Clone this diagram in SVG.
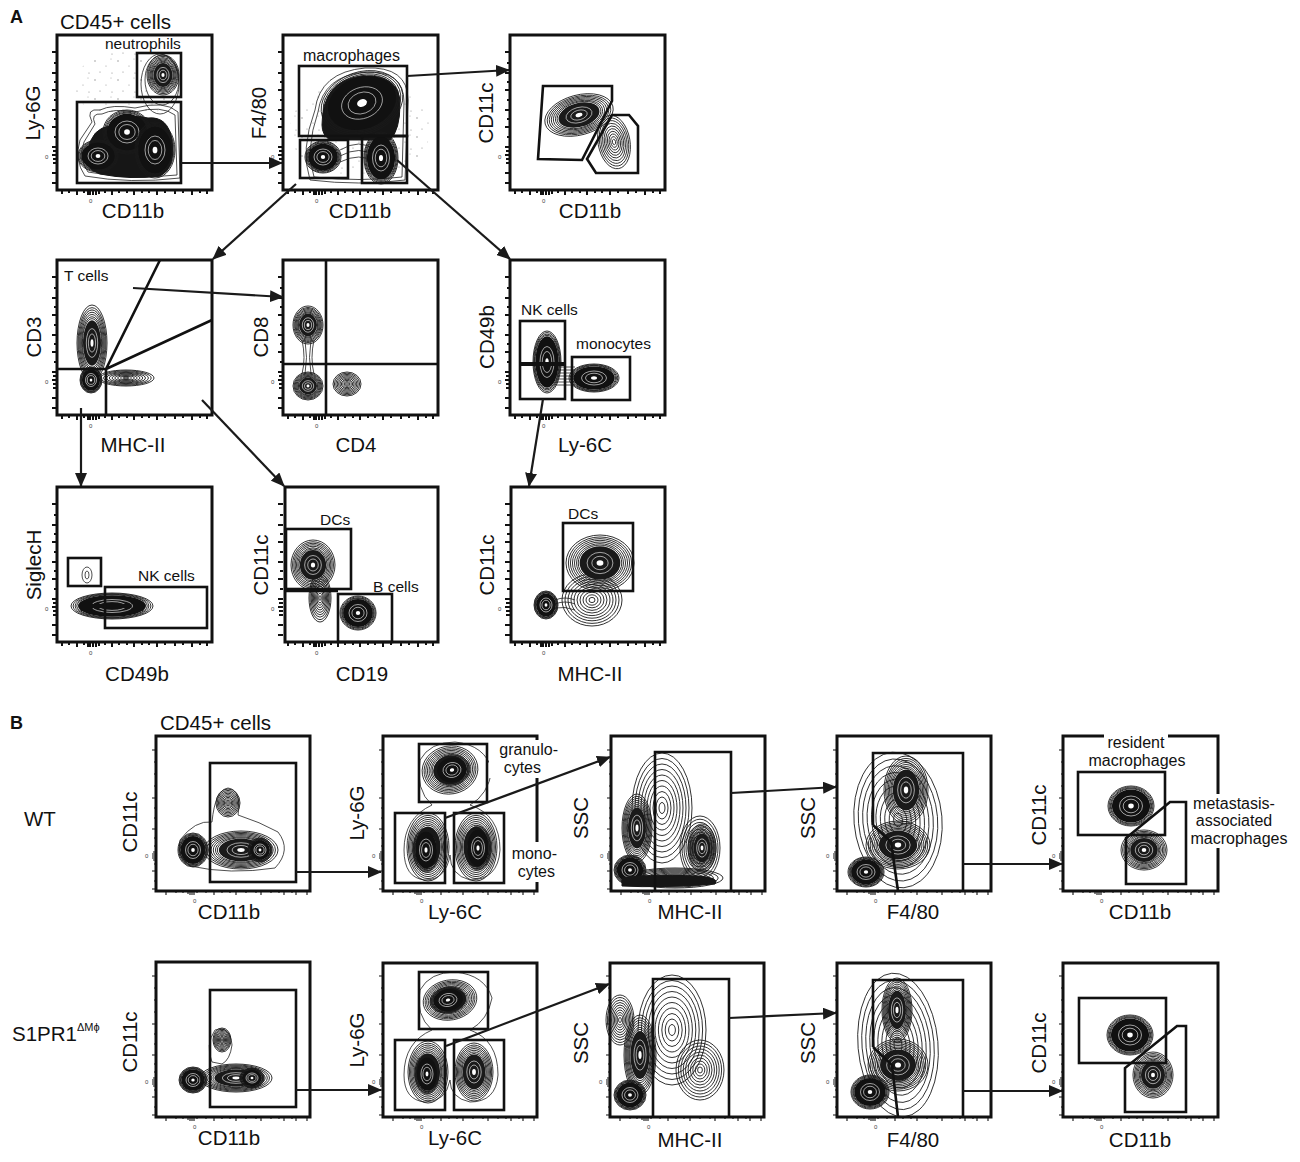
<svg xmlns="http://www.w3.org/2000/svg" xmlns:xlink="http://www.w3.org/1999/xlink" width="1300" height="1162" viewBox="0 0 1300 1162">
<style>
text{font-family:"Liberation Sans",Arial,sans-serif;fill:#111}
.ax{font-size:20.5px}
.gl{font-size:15.5px}
.gb{font-size:16px}
.z{font-size:6px;fill:#444}
.pl{font-size:18px;font-weight:bold}
.fr{fill:#fff;stroke:#111;stroke-width:3}
.gt{fill:none;stroke:#111;stroke-width:2.6}
.c{fill:none;stroke:#1a1a1a;stroke-width:.9;vector-effect:non-scaling-stroke}
.w{fill:none;stroke:#fff;stroke-width:.6;vector-effect:non-scaling-stroke}
.th{fill:none;stroke:#222;stroke-width:.8}
.dk{fill:#161616;stroke:#161616;stroke-width:1}
.tkA{fill:none;stroke:#111;stroke-width:2}
.tkB{fill:none;stroke:#111;stroke-width:1.1}
.cn{fill:none;stroke:#1a1a1a;stroke-width:2.2}
</style>
<defs>
<marker id="ah" markerUnits="userSpaceOnUse" markerWidth="14" markerHeight="12" refX="13" refY="6" orient="auto">
<path d="M0,0 L14,6 L0,12 Z" fill="#1a1a1a"/>
</marker>
<pattern id="dots" width="23" height="19" patternUnits="userSpaceOnUse">
<circle cx="3" cy="4" r=".7" fill="#888"/><circle cx="14" cy="9" r=".6" fill="#999"/><circle cx="8" cy="15" r=".6" fill="#888"/><circle cx="19" cy="2" r=".5" fill="#999"/><circle cx="20" cy="16" r=".6" fill="#888"/>
</pattern>
<g id="bd">
<circle r="1" class="c"/><circle r=".95" class="c"/><circle r=".9" class="c"/><circle r=".86" class="c"/>
<circle r=".83" fill="#111"/>
<circle r=".5" class="w"/><circle r=".34" class="w"/><circle r=".12" fill="#fff"/>
</g>
<g id="bm">
<circle r="1" class="c"/><circle r=".93" class="c"/><circle r=".87" class="c"/><circle r=".81" class="c"/><circle r=".75" class="c"/><circle r=".69" class="c"/><circle r=".64" class="c"/>
<circle r=".6" fill="#1a1a1a"/>
<circle r=".38" class="w"/><circle r=".24" class="w"/><circle r=".1" fill="#fff"/>
</g>
<g id="bl">
<circle r="1" class="c"/><circle r=".9" class="c"/><circle r=".8" class="c"/><circle r=".7" class="c"/><circle r=".6" class="c"/><circle r=".5" class="c"/><circle r=".4" class="c"/><circle r=".3" class="c"/><circle r=".2" class="c"/><circle r=".1" class="c"/>
</g>
<g id="tA">
<path class="tkA" d="M-5 17h5M-3 28h3M-5 38h5M-3 47h3M-5 55h5M-3 65h3M-5 75h5M-3 84h3M-5 92h5M-3 102h3M-5 112h5M-4 116h4M-5 120h5M-4 124h4M-4 128h4M-5 138h5M-5 148h5"/>
<path class="tkA" d="M5 155v4M12 155v3M20 155v5M27 155v3M31 155v5M33 155v5M36 155v5M39 155v5M42 155v4M48 155v3M55 155v5M62 155v3M70 155v3M77 155v5M85 155v3M92 155v3M100 155v5M108 155v3M118 155v4M126 155v3M135 155v5M143 155v3M150 155v4"/>
<text class="z" x="-12" y="124">0</text><text class="z" x="32" y="168">0</text>
</g>
<g id="tB">
<path class="tkB" d="M-4 14h4M-2 26h2M-2 38h2M-2 50h2M-4 62h4M-2 72h2M-2 82h2M-4 93h4M-2 102h2M-2 110h2M-3 116h3M-4 118h4M-4 120h4M-4 122h4M-3 124h3M-2 128h2M-4 135h4M-2 145h2M-4 153h4"/>
<path class="tkB" d="M10 155v4M20 155v2M27 155v2M32 155v3M34 155v4M36 155v4M38 155v4M41 155v2M50 155v2M58 155v4M66 155v2M74 155v2M80 155v4M90 155v2M100 155v2M105 155v4M115 155v2M123 155v2M128 155v4M136 155v2M140 155v4M151 155v4"/>
<text class="z" x="-11" y="122">0</text><text class="z" x="37" y="167">0</text>
</g>
</defs>
<rect width="1300" height="1162" fill="#fff"/>

<text class="pl" x="10" y="23">A</text>
<text class="pl" x="10" y="729">B</text>

<!-- Panel A row 1 -->
<g id="a1">
<rect class="fr" x="57" y="35" width="155" height="155"/>
<use href="#tA" transform="translate(57 35)"/>
<ellipse cx="125" cy="85" rx="50" ry="35" fill="url(#dots)"/>
<ellipse cx="160" cy="84" rx="19" ry="30" class="th"/>
<ellipse cx="162" cy="80" rx="17" ry="25" class="th"/>
<use href="#bm" transform="translate(163 75) scale(16 20)"/>
<path class="th" d="M92 122Q85 108 100 110Q112 104 135 108Q165 100 178 112L180 178Q130 184 85 176Q74 160 80 140Z"/>
<path class="th" d="M95 124Q90 113 102 114Q114 108 135 112Q162 105 175 115L177 175Q130 180 88 172Q78 158 84 142Z"/>
<path class="dk" d="M88 150Q92 128 110 126Q128 112 148 118Q168 116 172 140Q176 168 160 176Q130 180 100 174Q82 168 88 150Z"/>
<use href="#bd" transform="translate(127 132) scale(24 22)"/>
<use href="#bd" transform="translate(98 156) scale(20 16)"/>
<use href="#bd" transform="translate(155 150) scale(20 28)"/>
<rect class="gt" x="137" y="53" width="44" height="44"/>
<rect class="gt" x="77" y="102" width="104" height="81"/>
<text class="ax" x="60" y="29">CD45+ cells</text>
<text class="gl" x="105" y="49">neutrophils</text>
<text class="ax" transform="translate(40 113) rotate(-90)" text-anchor="middle">Ly-6G</text>
<text class="ax" x="133" y="218" text-anchor="middle">CD11b</text>
</g>

<g id="a2">
<rect class="fr" x="283" y="35" width="155" height="155"/>
<use href="#tA" transform="translate(283 35)"/>
<ellipse cx="360" cy="130" rx="70" ry="50" fill="url(#dots)"/>
<path class="th" d="M315 110Q320 72 365 68Q408 66 408 100L405 180Q360 186 310 180Q300 150 315 110Z"/>
<path class="th" d="M318 112Q323 76 365 72Q404 70 404 102L402 177Q360 182 314 177Q305 150 318 112Z"/>
<path class="dk" d="M322 125Q322 80 362 76Q400 74 400 104Q400 130 390 140L330 140Q322 135 322 125Z"/>
<use href="#bd" transform="translate(362 103) rotate(-20) scale(42 31)"/>
<path class="th" d="M340 150Q360 138 375 150M340 156Q360 145 375 156M340 162Q360 152 375 162"/>
<use href="#bd" transform="translate(323 157) scale(18 16)"/>
<use href="#bd" transform="translate(381 158) scale(17 26)"/>
<rect class="gt" x="299" y="66" width="108" height="70"/>
<rect class="gt" x="300" y="140" width="48" height="38"/>
<rect class="gt" x="362" y="136" width="45" height="47"/>
<text class="gl" x="303" y="61" style="font-size:16px">macrophages</text>
<text class="ax" transform="translate(266 113) rotate(-90)" text-anchor="middle">F4/80</text>
<text class="ax" x="360" y="218" text-anchor="middle">CD11b</text>
</g>

<g id="a3">
<rect class="fr" x="510" y="35" width="155" height="155"/>
<use href="#tA" transform="translate(510 35)"/>
<use href="#bl" transform="translate(614 142) rotate(-10) scale(16 27)"/>
<use href="#bm" transform="translate(579 115) rotate(-15) scale(35 20)"/>
<path class="gt" d="M543 86H612V101L582 160L538 159Z"/>
<path class="gt" d="M612 115H629L638 126V173H596L587 159Z"/>
<text class="ax" transform="translate(493 113) rotate(-90)" text-anchor="middle">CD11c</text>
<text class="ax" x="590" y="218" text-anchor="middle">CD11b</text>
</g>

<!-- Panel A row 2 -->
<g id="a4">
<rect class="fr" x="57" y="260" width="155" height="155"/>
<use href="#tA" transform="translate(57 260)"/>
<use href="#bl" transform="translate(126 378) scale(28 8)"/>
<use href="#bm" transform="translate(92 343) scale(15 38)"/>
<use href="#bd" transform="translate(91 380) scale(11 13)"/>
<path class="gt" d="M57 369H106V414M106 369L160 260M106 369L212 320"/>
<text class="gl" x="64" y="281">T cells</text>
<text class="ax" transform="translate(41 337) rotate(-90)" text-anchor="middle">CD3</text>
<text class="ax" x="133" y="452" text-anchor="middle">MHC-II</text>
</g>

<g id="a5">
<rect class="fr" x="283" y="260" width="155" height="155"/>
<use href="#tA" transform="translate(283 260)"/>
<path class="th" d="M302 340Q306 358 302 374M314 340Q310 358 314 374M305 340Q308 358 305 374M311 340Q308 358 311 374"/>
<use href="#bm" transform="translate(308 325) scale(15 19)"/>
<use href="#bm" transform="translate(308 386) scale(15 14)"/>
<use href="#bl" transform="translate(347 384) scale(14 12)"/>
<path class="gt" d="M326 260V414M283 364H438"/>
<text class="ax" transform="translate(268 337) rotate(-90)" text-anchor="middle">CD8</text>
<text class="ax" x="356" y="452" text-anchor="middle">CD4</text>
</g>

<g id="a6">
<rect class="fr" x="510" y="260" width="155" height="155"/>
<use href="#tA" transform="translate(510 260)"/>
<path class="th" d="M556 370H575M556 373H575M556 376H575M556 379H575M556 382H575M556 385H575M556 367H575"/>
<use href="#bd" transform="translate(594 378) scale(25 14)"/>
<use href="#bd" transform="translate(547 362) scale(14 31)"/>
<rect class="gt" x="520" y="321" width="45" height="78"/>
<path d="M520 364H565" stroke="#111" stroke-width="4"/>
<rect class="gt" x="572" y="357" width="58" height="43"/>
<text class="gl" x="521" y="315">NK cells</text>
<text class="gl" x="576" y="349">monocytes</text>
<text class="ax" transform="translate(494 337) rotate(-90)" text-anchor="middle">CD49b</text>
<text class="ax" x="585" y="452" text-anchor="middle">Ly-6C</text>
</g>

<!-- Panel A row 3 -->
<g id="a7">
<rect class="fr" x="57" y="487" width="155" height="155"/>
<use href="#tA" transform="translate(57 487)"/>
<ellipse cx="87" cy="575" rx="5" ry="8" class="th"/><ellipse cx="87" cy="575" rx="2" ry="4" class="th"/>
<use href="#bd" transform="translate(112 606) scale(41 13)"/>
<rect x="80" y="604" width="50" height="4" fill="#111"/>
<rect class="gt" x="68" y="558" width="33" height="28"/>
<rect class="gt" x="105" y="587" width="102" height="41"/>
<text class="gl" x="138" y="581">NK cells</text>
<text class="ax" transform="translate(41 565) rotate(-90)" text-anchor="middle">SiglecH</text>
<text class="ax" x="137" y="681" text-anchor="middle">CD49b</text>
</g>

<g id="a8">
<rect class="fr" x="285" y="487" width="153" height="155"/>
<use href="#tA" transform="translate(283 487)"/>
<use href="#bl" transform="translate(320 598) scale(11 24)"/>
<use href="#bm" transform="translate(313 565) scale(22 25)"/>
<use href="#bd" transform="translate(358 613) scale(18 17)"/>
<rect class="gt" x="286" y="529" width="65" height="60"/>
<rect class="gt" x="338" y="594" width="54" height="48"/>
<path class="gt" d="M286 591H338"/>
<text class="gl" x="320" y="525">DCs</text>
<text class="gl" x="373" y="592">B cells</text>
<text class="ax" transform="translate(268 565) rotate(-90)" text-anchor="middle">CD11c</text>
<text class="ax" x="362" y="681" text-anchor="middle">CD19</text>
</g>

<g id="a9">
<rect class="fr" x="511" y="487" width="154" height="155"/>
<use href="#tA" transform="translate(510 487)"/>
<use href="#bl" transform="translate(592 600) scale(30 26)"/>
<path class="th" d="M555 600Q565 596 575 600M555 604Q565 600 575 604M555 608Q565 606 575 610"/>
<use href="#bm" transform="translate(600 563) scale(34 28)"/>
<use href="#bd" transform="translate(546 605) scale(12 14)"/>
<rect class="gt" x="563" y="523" width="70" height="68"/>
<text class="gl" x="568" y="519">DCs</text>
<text class="ax" transform="translate(494 565) rotate(-90)" text-anchor="middle">CD11c</text>
<text class="ax" x="590" y="681" text-anchor="middle">MHC-II</text>
</g>

<!-- Panel B labels -->
<text class="ax" x="160" y="730">CD45+ cells</text>
<text class="ax" x="24" y="826">WT</text>
<text class="ax" x="12" y="1041">S1PR1<tspan dy="-10" style="font-size:11px">ΔMϕ</tspan></text>

<!-- Panel B row 1 -->
<g id="b1">
<rect class="fr" x="156" y="736" width="154" height="155"/>
<use href="#tB" transform="translate(156 736)"/>
<path class="th" d="M180 840Q195 820 212 822Q215 790 228 788Q242 790 238 815Q260 822 278 832Q292 850 275 868Q230 875 190 866Q176 856 180 840Z"/>
<use href="#bl" transform="translate(228 803) scale(12 14)"/>
<use href="#bd" transform="translate(193 850) scale(15 17)"/>
<use href="#bm" transform="translate(241 850) scale(37 19)"/>
<use href="#bd" transform="translate(260 850) scale(12 12)"/>
<rect class="gt" x="210" y="763" width="86" height="119"/>
<text class="ax" transform="translate(137 822) rotate(-90)" text-anchor="middle">CD11c</text>
<text class="ax" x="229" y="919" text-anchor="middle">CD11b</text>
</g>

<g id="b2">
<rect class="fr" x="383" y="736" width="154" height="155"/>
<use href="#tB" transform="translate(383 736)"/>
<path class="th" d="M420 760Q430 742 455 742Q485 745 492 770Q488 795 470 805Q500 815 500 850Q498 880 470 880Q450 875 450 855Q446 880 425 880Q404 878 404 850Q404 818 432 805Q415 790 420 760Z"/>
<use href="#bm" transform="translate(450 770) rotate(-10) scale(28 24)"/>
<use href="#bm" transform="translate(428 847) scale(21 34)"/>
<use href="#bm" transform="translate(476 847) scale(21 34)"/>
<use href="#bd" transform="translate(426 850) scale(13 22)"/>
<use href="#bd" transform="translate(478 848) scale(13 22)"/>
<use href="#bd" transform="translate(452 770) rotate(-10) scale(18 15)"/>
<rect class="gt" x="419" y="744" width="68" height="58"/>
<rect class="gt" x="395" y="813" width="50" height="70"/>
<rect class="gt" x="454" y="813" width="50" height="70"/>
<rect x="489" y="740" width="72" height="38" fill="#fff"/>
<rect x="510" y="842" width="50" height="40" fill="#fff"/>
<text class="gb" x="558" y="755" text-anchor="end">granulo-</text>
<text class="gb" x="541" y="773" text-anchor="end">cytes</text>
<text class="gb" x="557" y="859" text-anchor="end">mono-</text>
<text class="gb" x="555" y="877" text-anchor="end">cytes</text>
<text class="ax" transform="translate(364 813) rotate(-90)" text-anchor="middle">Ly-6G</text>
<text class="ax" x="455" y="919" text-anchor="middle">Ly-6C</text>
</g>

<g id="b3">
<rect class="fr" x="611" y="736" width="154" height="155"/>
<use href="#tB" transform="translate(611 736)"/>
<use href="#bl" transform="translate(662 808) scale(30 55)"/>
<use href="#bl" transform="translate(700 848) scale(20 32)"/>
<use href="#bl" transform="translate(675 878) scale(48 10)"/>
<use href="#bm" transform="translate(637 828) scale(15 34)"/>
<use href="#bm" transform="translate(702 848) scale(14 24)"/>
<use href="#bd" transform="translate(630 870) scale(16 15)"/>
<path class="dk" d="M622 878Q640 874 700 876Q720 878 715 884Q660 888 622 886Z"/>
<path class="gt" d="M655 891V752H731V891"/>
<text class="ax" transform="translate(588 818) rotate(-90)" text-anchor="middle">SSC</text>
<text class="ax" x="690" y="919" text-anchor="middle">MHC-II</text>
</g>

<g id="b4">
<rect class="fr" x="837" y="736" width="154" height="155"/>
<use href="#tB" transform="translate(837 736)"/>
<use href="#bl" transform="translate(898 820) rotate(-5) scale(44 68)"/>
<use href="#bm" transform="translate(906 790) scale(22 34)"/>
<use href="#bm" transform="translate(898 845) scale(32 24)"/>
<use href="#bd" transform="translate(866 872) scale(18 15)"/>
<path class="gt" d="M873 825V753H963V891M873 825L891 842L898 891"/>
<text class="ax" transform="translate(815 818) rotate(-90)" text-anchor="middle">SSC</text>
<text class="ax" x="913" y="919" text-anchor="middle">F4/80</text>
</g>

<g id="b5">
<rect class="fr" x="1063" y="736" width="155" height="155"/>
<use href="#tB" transform="translate(1063 736)"/>
<use href="#bm" transform="translate(1144 850) scale(23 20)"/>
<use href="#bd" transform="translate(1131 806) scale(23 20)"/>
<rect class="gt" x="1078" y="772" width="87" height="63"/>
<path class="gt" d="M1170 802H1186V884H1126V838Z"/>
<rect x="1104" y="730" width="64" height="12" fill="#fff"/>
<rect x="1196" y="794" width="90" height="54" fill="#fff"/>
<text class="gb" x="1136" y="748" text-anchor="middle">resident</text>
<text class="gb" x="1137" y="766" text-anchor="middle">macrophages</text>
<text class="gb" x="1234" y="809" text-anchor="middle">metastasis-</text>
<text class="gb" x="1234" y="826" text-anchor="middle">associated</text>
<text class="gb" x="1239" y="844" text-anchor="middle">macrophages</text>
<text class="ax" transform="translate(1046 815) rotate(-90)" text-anchor="middle">CD11c</text>
<text class="ax" x="1140" y="919" text-anchor="middle">CD11b</text>
</g>

<!-- Panel B row 2 -->
<g id="b6">
<rect class="fr" x="156" y="962" width="154" height="155"/>
<use href="#tB" transform="translate(156 962)"/>
<path class="th" d="M212 1062Q205 1045 215 1030Q230 1025 232 1045Q230 1060 222 1064Z"/>
<use href="#bl" transform="translate(222 1040) scale(9 12)"/>
<use href="#bd" transform="translate(193 1080) scale(14 13)"/>
<use href="#bm" transform="translate(236 1078) scale(36 14)"/>
<use href="#bd" transform="translate(252 1078) scale(12 10)"/>
<rect class="gt" x="210" y="990" width="86" height="117"/>
<text class="ax" transform="translate(137 1042) rotate(-90)" text-anchor="middle">CD11c</text>
<text class="ax" x="229" y="1145" text-anchor="middle">CD11b</text>
</g>

<g id="b7">
<rect class="fr" x="383" y="963" width="154" height="154"/>
<use href="#tB" transform="translate(383 962)"/>
<path class="th" d="M420 990Q430 972 455 972Q485 975 492 998Q488 1020 470 1030Q498 1040 498 1075Q496 1102 470 1102Q450 1098 450 1080Q446 1102 425 1102Q404 1100 404 1075Q404 1042 432 1030Q415 1015 420 990Z"/>
<use href="#bm" transform="translate(450 1000) rotate(-10) scale(27 20)"/>
<use href="#bm" transform="translate(428 1072) scale(20 31)"/>
<use href="#bm" transform="translate(474 1072) scale(19 29)"/>
<use href="#bd" transform="translate(448 1000) rotate(-10) scale(18 13)"/>
<use href="#bd" transform="translate(427 1074) scale(12 20)"/>
<rect class="gt" x="419" y="972" width="69" height="57"/>
<rect class="gt" x="395" y="1040" width="50" height="70"/>
<rect class="gt" x="454" y="1040" width="50" height="70"/>
<text class="ax" transform="translate(364 1040) rotate(-90)" text-anchor="middle">Ly-6G</text>
<text class="ax" x="455" y="1145" text-anchor="middle">Ly-6C</text>
</g>

<g id="b8">
<rect class="fr" x="610" y="963" width="154" height="154"/>
<use href="#tB" transform="translate(610 962)"/>
<use href="#bl" transform="translate(620 1020) scale(14 25)"/>
<use href="#bl" transform="translate(672 1030) scale(34 55)"/>
<use href="#bl" transform="translate(700 1070) scale(24 30)"/>
<use href="#bm" transform="translate(640 1055) scale(16 40)"/>
<use href="#bd" transform="translate(630 1095) scale(16 15)"/>
<path class="gt" d="M653 1117V979H729V1117"/>
<text class="ax" transform="translate(588 1043) rotate(-90)" text-anchor="middle">SSC</text>
<text class="ax" x="690" y="1147" text-anchor="middle">MHC-II</text>
</g>

<g id="b9">
<rect class="fr" x="837" y="963" width="154" height="154"/>
<use href="#tB" transform="translate(837 962)"/>
<use href="#bl" transform="translate(898 1045) rotate(-5) scale(40 72)"/>
<use href="#bm" transform="translate(897 1010) scale(15 32)"/>
<use href="#bm" transform="translate(898 1065) scale(30 26)"/>
<use href="#bd" transform="translate(870 1092) scale(19 17)"/>
<path class="gt" d="M873 1047V980H963V1117M873 1047L892 1065L898 1117"/>
<text class="ax" transform="translate(815 1043) rotate(-90)" text-anchor="middle">SSC</text>
<text class="ax" x="913" y="1147" text-anchor="middle">F4/80</text>
</g>

<g id="b10">
<rect class="fr" x="1063" y="963" width="155" height="154"/>
<use href="#tB" transform="translate(1063 962)"/>
<use href="#bm" transform="translate(1153 1075) scale(20 23)"/>
<use href="#bd" transform="translate(1130 1035) scale(23 20)"/>
<rect class="gt" x="1079" y="998" width="87" height="65"/>
<path class="gt" d="M1177 1026H1186V1112H1125V1068Z"/>
<text class="ax" transform="translate(1046 1043) rotate(-90)" text-anchor="middle">CD11c</text>
<text class="ax" x="1140" y="1147" text-anchor="middle">CD11b</text>
</g>

<!-- Connectors -->
<g id="connectors">
<path class="cn" marker-end="url(#ah)" d="M181 163L282 163"/>
<path class="cn" marker-end="url(#ah)" d="M407 76L509 70"/>
<path class="cn" marker-end="url(#ah)" d="M296 184L213 259"/>
<path class="cn" marker-end="url(#ah)" d="M397 160L510 259"/>
<path class="cn" marker-end="url(#ah)" d="M133 288L283 297"/>
<path class="cn" marker-end="url(#ah)" d="M81 408L81 486"/>
<path class="cn" marker-end="url(#ah)" d="M202 400L284 486"/>
<path class="cn" marker-end="url(#ah)" d="M543 399L529 486"/>
<path class="cn" marker-end="url(#ah)" d="M296 872L381 872"/>
<path class="cn" marker-end="url(#ah)" d="M445 818L610 757"/>
<path class="cn" marker-end="url(#ah)" d="M731 793L836 787"/>
<path class="cn" marker-end="url(#ah)" d="M963 864L1062 864"/>
<path class="cn" marker-end="url(#ah)" d="M296 1090L381 1090"/>
<path class="cn" marker-end="url(#ah)" d="M446 1046L609 984"/>
<path class="cn" marker-end="url(#ah)" d="M729 1018L836 1013"/>
<path class="cn" marker-end="url(#ah)" d="M963 1091L1062 1091"/>
</g>
</svg>
